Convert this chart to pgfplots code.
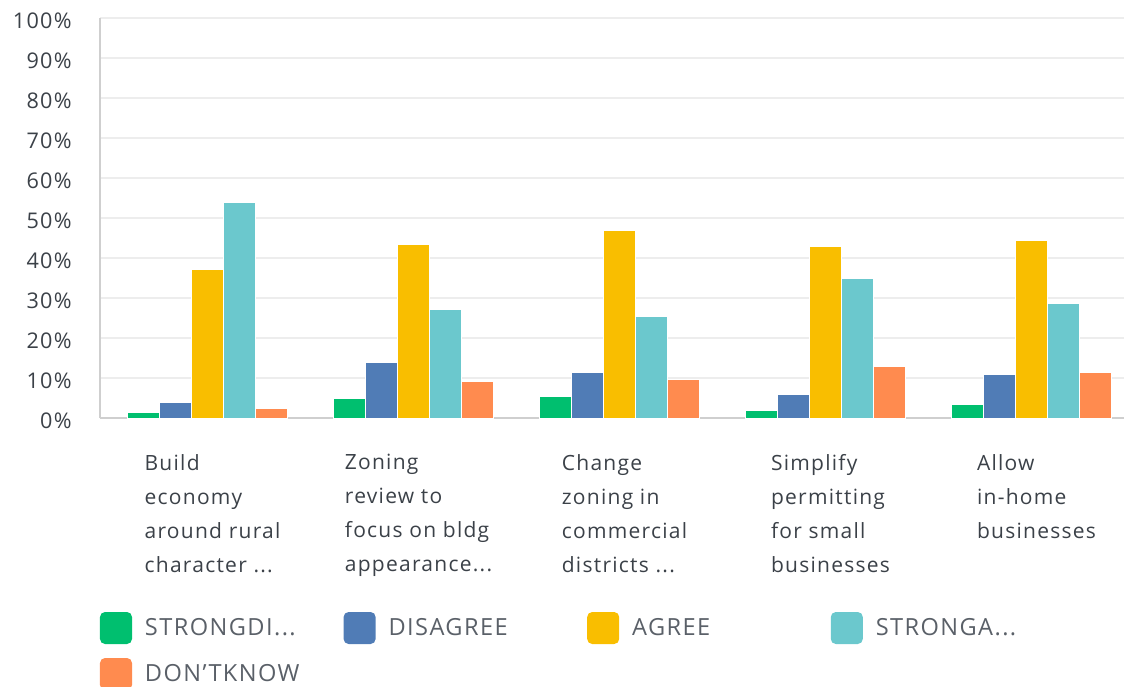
\documentclass[border=0pt]{standalone}
\usepackage{fontspec}
\setmainfont{Open Sans}[LetterSpace=6]
\usepackage{pgfplots}
\pgfplotsset{compat=1.18}

\definecolor{sdis}{HTML}{00BF6F}
\definecolor{dis}{HTML}{507CB6}
\definecolor{agr}{HTML}{F9BE00}
\definecolor{sagr}{HTML}{6BC8CD}
\definecolor{dk}{HTML}{FF8B4F}
\definecolor{txt}{HTML}{3B4148}
\definecolor{legtxt}{HTML}{5A6068}
\definecolor{gridc}{HTML}{EDEDED}
\definecolor{axc}{HTML}{CFCFCF}

\newcommand{\legbox}[1]{\makebox[99.3pt][l]{#1}}
\newcommand{\dd}{.{}.{}.}

\begin{document}
\begin{tikzpicture}
\useasboundingbox (-50pt,-134pt) rectangle (512pt,209pt);
\begin{axis}[
    at={(0pt,0pt)}, anchor=south west,
    scale only axis, width=512pt, height=200pt,
    ybar=0pt, bar width=16pt,
    xmin=-0.522, xmax=4.449,
    ymin=0, ymax=100,
    xtick={0,1,2,3,4},
    xticklabels={
        {Build\\economy\\around rural\\character \dd},
        {Zoning\\review to\\focus on bldg\\appearance\dd},
        {Change\\zoning in\\commercial\\districts \dd},
        {Simplify\\permitting\\for small\\businesses},
        {Allow\\in-home\\businesses}},
    xticklabel style={anchor=north, align=left, inner sep=0pt,
        font=\fontsize{10.5}{17}\selectfont, text=txt,
        yshift=-18pt, xshift=2.5pt},
    ytick={0,10,20,30,40,50,60,70,80,90,100},
    yticklabel={\pgfmathprintnumber{\tick}\%},
    /pgf/number format/assume math mode=true,
    yticklabel style={inner sep=0pt, xshift=-14pt, yshift=-1.5pt,
        font=\fontsize{10.8}{12}\selectfont, text=txt},
    major tick length=0pt,
    ymajorgrids, grid style={draw=gridc, line width=1pt},
    axis x line*=bottom, axis y line*=left,
    axis line style={-, draw=axc, line width=1pt},
    every axis plot post/.append style={draw=white, line width=0.5pt,
        legend image code/.code={\fill[##1, draw=none, rounded corners=2.5pt] (0pt,-8pt) rectangle (16pt,8pt);}},
    legend columns=4,
    legend cell align=left,
    legend style={at={(0,0)}, anchor=north west, yshift=-97pt,
        draw=none, fill=none, inner sep=0pt, outer sep=0pt,
        font=\fontsize{11.8}{13}\selectfont, text=legtxt,
        row sep=7pt,
        nodes={inner sep=0pt},
        /tikz/every odd column/.append style={column sep=6.5pt},
        /tikz/every even column/.append style={column sep=0pt}},
]
\addplot[fill=sdis] coordinates {(0,1.3) (1,4.9) (2,5.5) (3,1.8) (4,3.5)};
\addlegendentry{\legbox{STRONGDI\dd}}
\addplot[fill=dis] coordinates {(0,4.0) (1,13.9) (2,11.3) (3,6.0) (4,10.8)};
\addlegendentry{\legbox{DISAGREE}}
\addplot[fill=agr] coordinates {(0,37.2) (1,43.4) (2,47.0) (3,43.0) (4,44.5)};
\addlegendentry{\legbox{AGREE}}
\addplot[fill=sagr] coordinates {(0,53.9) (1,27.2) (2,25.5) (3,34.9) (4,28.7)};
\addlegendentry{\legbox{STRONGA\dd}}
\addplot[fill=dk] coordinates {(0,2.3) (1,9.2) (2,9.7) (3,12.9) (4,11.3)};
\addlegendentry{\legbox{DON'TKNOW}}
\end{axis}
\end{tikzpicture}
\end{document}
